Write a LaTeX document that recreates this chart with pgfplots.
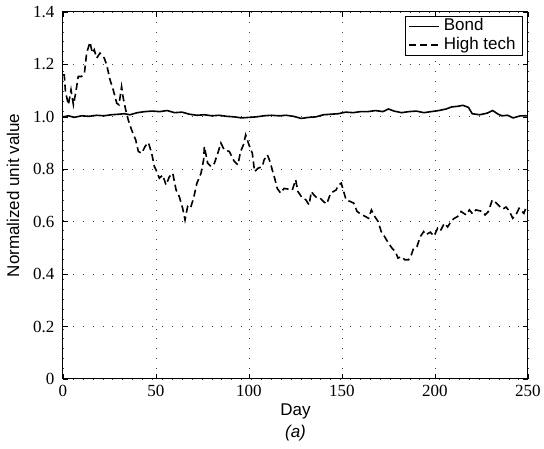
\documentclass[border=0pt]{standalone}
\usepackage{fontspec}
\setmainfont{Liberation Serif}
\setsansfont{Liberation Sans}
\usepackage{pgfplots}
\pgfplotsset{compat=1.18}
\begin{document}
\begin{tikzpicture}
\path[use as bounding box] (-63pt,-70pt) rectangle (481pt,379pt);
\begin{axis}[
 at={(0,0)}, anchor=south west,
 scale only axis, width=465pt, height=367pt,
 xmin=0, xmax=250, ymin=0, ymax=1.4,
 xtick={0,50,100,150,200,250}, xticklabels={0,50,100,150,200,250},
 ytick={0,0.2,0.4,0.6,0.8,1.0,1.2,1.4}, yticklabels={0,0.2,0.4,0.6,0.8,1.0,1.2,1.4},
 tick align=inside, major tick length=5pt,
 tick style={black, line width=0.7pt},
 axis line style={black, line width=1pt},
 grid=major, major grid style={black!75, line width=0.8pt, dash pattern=on 0.9pt off 9pt},
 ticklabel style={font=\fontsize{17}{20}\selectfont},
 xticklabel style={yshift=-3pt},
 yticklabel style={xshift=-5pt},
 xlabel={Day}, ylabel={Normalized unit value},
 label style={font=\sffamily\fontsize{17}{20}\selectfont},
 xlabel style={at={(axis description cs:0.5,-0.1008)}, anchor=base},
 ylabel style={at={(axis description cs:-0.1075,0.5)}, anchor=center},
 legend style={at={(axis description cs:1,1)}, anchor=north east, xshift=-5pt, yshift=-4pt, font=\sffamily\fontsize{17}{20}\selectfont, draw=black, line width=0.7pt, inner xsep=3pt, inner ysep=1pt, row sep=0pt, nodes={inner xsep=4pt, inner ysep=1.5pt, text height=12pt, text depth=3.5pt}},
 legend cell align=left,
 legend image code/.code={\draw[#1] (0pt,0pt) -- (30pt,0pt);},
]
\addplot[black, line width=1.6pt] coordinates {
(0,1.000) (3,1.004) (6,0.998) (10,1.004) (14,1.002) (18,1.006) (22,1.004) (26,1.008) (30,1.010) (33,1.012) (36,1.008) (40,1.016) (44,1.020) (48,1.022) (52,1.020) (56,1.024) (60,1.016) (64,1.018) (68,1.010) (72,1.006) (76,1.008) (80,1.004) (84,1.006) (88,1.002) (92,1.000) (96,0.996) (100,0.998) (104,1.000) (108,1.004) (112,1.006) (116,1.004) (120,1.006) (124,1.002) (128,0.994) (132,0.998) (136,1.000) (140,1.008) (144,1.010) (148,1.012) (152,1.018) (156,1.016) (160,1.020) (164,1.020) (168,1.024) (172,1.020) (175,1.030) (178,1.022) (182,1.016) (186,1.020) (190,1.022) (194,1.016) (198,1.020) (202,1.024) (206,1.030) (209,1.038) (212,1.040) (215,1.044) (218,1.036) (220,1.012) (224,1.008) (228,1.014) (231,1.024) (234,1.010) (236,1.004) (239,1.006) (242,0.996) (246,1.004) (250,1.004)
};
\addlegendentry{Bond}
\addplot[black, line width=1.6pt, dash pattern=on 7pt off 4pt] coordinates {
(0,1.16) (0.7,1.16) (1.3,1.097) (2.9,1.046) (4.3,1.103) (5.6,1.046) (6.8,1.090) (8.2,1.154) (10.0,1.154) (11.5,1.166) (12.7,1.243) (14.5,1.285) (15.8,1.243) (16.8,1.256) (18.1,1.224) (19.9,1.243) (22.2,1.224) (23.5,1.198) (25.3,1.141) (27.0,1.103) (28.9,1.052) (30.1,1.046) (31.5,1.115) (32.4,1.071) (33.7,1.027) (35.1,0.988) (36.9,0.950) (39.1,0.912) (40.5,0.868) (42.3,0.861) (44.1,0.887) (45.9,0.902) (47.7,0.861) (49.1,0.811) (50.0,0.798) (51.8,0.766) (53.6,0.778) (55.4,0.740) (57.2,0.772) (59.0,0.785) (60.8,0.721) (62.5,0.696) (64.3,0.652) (65.6,0.607) (67.0,0.658) (68.5,0.651) (70.2,0.690) (72.0,0.747) (74.2,0.785) (75.6,0.836) (76.0,0.887) (77.8,0.823) (79.6,0.810) (81.4,0.823) (83.2,0.861) (84.9,0.900) (86.7,0.874) (89.4,0.868) (92.1,0.830) (94.0,0.817) (95.5,0.868) (97.0,0.893) (98.2,0.931) (100.0,0.893) (101.8,0.861) (103.0,0.791) (104.8,0.804) (107.2,0.810) (108.1,0.836) (109.9,0.855) (111.3,0.829) (112.5,0.798) (113.8,0.766) (115.2,0.727) (117.0,0.709) (118.8,0.727) (121.5,0.724) (123.3,0.721) (125.1,0.760) (126.3,0.715) (128.7,0.690) (130.5,0.684) (132.3,0.664) (133.5,0.715) (134.9,0.702) (136.7,0.690) (138.2,0.690) (140.0,0.677) (141.8,0.668) (143.9,0.709) (146.8,0.721) (148.2,0.740) (149.6,0.747) (150.9,0.715) (152.2,0.683) (154.5,0.677) (156.3,0.671) (158.1,0.639) (160.8,0.626) (162.5,0.620) (164.3,0.613) (165.8,0.645) (167.6,0.620) (169.4,0.601) (171.1,0.562) (172.9,0.543) (175.1,0.517) (176.9,0.499) (178.7,0.486) (180.1,0.461) (181.9,0.467) (183.7,0.455) (185.8,0.455) (187.3,0.474) (188.5,0.499) (190.3,0.505) (192.1,0.543) (193.9,0.562) (195.0,0.550) (197.5,0.560) (199.5,0.545) (201.4,0.575) (202.9,0.565) (205.0,0.594) (206.8,0.580) (209.0,0.605) (210.4,0.613) (212.2,0.620) (214.0,0.639) (216.7,0.626) (218.5,0.645) (220.2,0.630) (222.0,0.645) (223.8,0.642) (225.6,0.639) (226.9,0.626) (228.7,0.639) (230.8,0.683) (232.5,0.674) (234.5,0.660) (236.4,0.648) (238.2,0.656) (240.0,0.640) (241.8,0.613) (243.5,0.626) (245.2,0.651) (247.8,0.632) (249.1,0.657) (250,0.650)
};
\addlegendentry{High tech}
\end{axis}
\node[anchor=base, font=\sffamily\itshape\fontsize{17}{20}\selectfont] at (232.5pt,-59pt) {(a)};
\end{tikzpicture}
\end{document}
